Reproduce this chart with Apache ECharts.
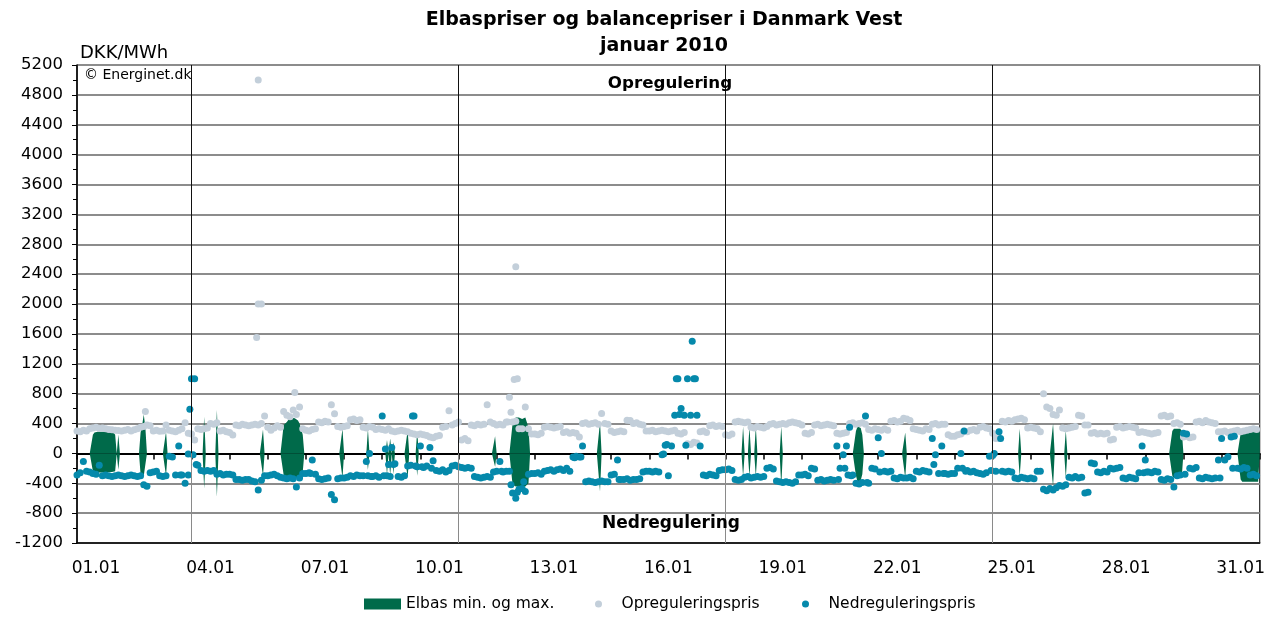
<!DOCTYPE html>
<html>
<head>
<meta charset="utf-8">
<title>Elbaspriser og balancepriser i Danmark Vest</title>
<script src="https://cdn.jsdelivr.net/npm/echarts@6/dist/echarts.min.js"></script>
<style>
  html, body { margin: 0; padding: 0; background: #fff; }
  #chart { width: 1268px; height: 619px; }
</style>
</head>
<body>
<div id="chart"></div>
<script>
// 01.01 00:00 = time 0, one value every 2 hours (12 per day)
var stepHours = 2;
var opVals = [
  300,290,310,300,330,340,350,335,340,330,320,315,
  310,305,300,310,320,300,315,330,350,360,380,370,
  300,310,295,300,380,310,300,290,310,330,410,270,
  260,180,330,320,330,340,400,390,410,300,310,290,
  280,245,380,370,390,380,370,380,390,380,400,500,
  350,310,340,370,350,560,510,490,580,520,620,330,
  310,300,320,330,420,410,430,420,650,530,360,350,
  360,370,450,460,440,450,350,340,360,350,320,330,
  320,310,330,300,290,300,310,300,290,270,260,250,
  260,250,240,220,210,230,240,350,360,570,380,400,
  420,180,200,170,380,370,390,380,390,650,420,400,
  380,390,380,420,750,420,430,330,330,620,330,260,
  260,250,270,350,360,350,340,350,360,280,290,270,
  280,270,220,400,410,390,400,410,390,535,400,390,
  300,280,290,300,290,445,440,400,410,390,380,300,
  300,310,290,300,310,300,290,300,310,270,260,280,
  130,120,150,140,290,300,280,370,380,360,370,360,
  250,240,260,420,430,420,410,420,350,340,360,350,
  340,360,390,400,380,390,400,390,410,420,410,400,
  380,270,260,280,380,390,370,380,390,380,370,270,
  260,270,280,400,410,390,400,410,390,320,310,330,
  320,310,330,310,430,440,420,430,470,460,440,330,
  320,310,300,330,320,390,400,380,390,390,250,230,
  230,250,260,290,290,310,320,300,350,360,340,330,
  270,200,200,430,420,440,430,450,460,470,450,340,
  350,340,330,290,800,620,600,520,510,580,340,330,
  340,350,360,510,500,380,380,270,280,260,270,260,
  270,180,190,350,360,340,350,360,350,340,280,290,
  280,270,260,270,280,500,510,490,500,400,410,390,
  220,230,210,220,420,430,410,440,420,410,400,290,
  290,300,280,290,300,310,290,300,310,320,330,320
];
var nedVals = [
  -290,-260,-110,-240,-250,-270,-280,-160,-300,-290,-300,-310,
  -300,-290,-300,-310,-300,-290,-300,-310,-300,-420,-440,-260,
  -250,-240,-300,-310,-300,-40,-50,-290,100,-290,-400,-290,
  1000,1000,-160,-230,-240,-230,-240,-230,-280,-270,-290,-280,
  -280,-290,-350,-350,-360,-350,-350,-370,-380,-490,-360,-300,
  -300,-290,-280,-300,-320,-330,-340,-330,-340,-450,-330,-270,
  -270,-260,-90,-280,-340,-350,-340,-330,-550,-620,-340,-330,
  -330,-320,-300,-310,-290,-300,-300,-110,0,-310,-300,-320,
  500,60,-150,80,-140,-310,-320,-300,-170,-160,500,-180,
  100,-190,-170,80,-100,-230,-240,-220,-250,-230,-170,-160,
  -180,-190,-200,-190,-200,-310,-320,-330,-320,-310,-320,-250,
  -240,-110,-250,-240,-240,-530,-600,-480,-470,-510,-280,-270,
  -270,-260,-280,-240,-230,-220,-240,-220,-210,-230,-200,-240,
  -50,-40,-50,100,-380,-370,-380,-390,-380,-370,-380,-380,
  -290,-280,-90,-350,-350,-340,-360,-350,-350,-340,-250,-240,
  -240,-250,-240,-250,-20,110,-300,100,510,1000,600,510,
  1000,510,1000,510,100,-290,-300,-280,-290,-300,-230,-220,
  -220,-210,-230,-350,-360,-350,-320,-310,-330,-320,-310,-320,
  -310,-200,-190,-210,-370,-380,-390,-380,-390,-400,-380,-290,
  -290,-280,-300,-200,-210,-360,-350,-370,-360,-350,-360,100,
  -200,-20,100,350,-290,-400,-410,-390,500,-400,-200,-210,
  210,0,-240,-250,-240,-330,-340,-320,-330,-330,-320,-340,
  -240,-250,-230,-240,-250,200,-20,-270,100,-270,-280,-270,
  -270,-200,0,300,-230,-250,-240,-260,-270,-280,-260,-40,
  -30,-240,290,-240,-250,-240,-250,-330,-340,-320,-330,-340,
  -330,-340,-240,-240,-480,-500,-470,-490,-460,-430,-440,-420,
  -320,-330,-310,-330,-320,-530,-520,-130,-140,-250,-260,-240,
  -250,-200,-210,-200,-190,-330,-340,-320,-330,-340,-260,100,
  -90,-250,-260,-240,-250,-350,-360,-340,-350,-450,-300,-290,
  270,260,-200,-210,-190,-330,-340,-320,-330,-340,-330,-90,
  200,-90,-45,220,230,-200,-210,-190,-200,-290,-280,-300
];
// single hours that lie off the 2-hour grid (spikes and doubled points)
var opExtraHours = [43, 113, 114, 114, 116, 137, 271, 273, 275, 276, 277];
var opExtraVals  = [560, 1550, 2000, 5000, 2000, 815, 420, 550, 990, 2500, 1000];
var nedExtraHours = [65, 71, 70, 73, 75, 147, 183, 185, 193, 195, 197, 199, 211, 213, 217, 223,
  267, 273, 277, 281, 313, 317, 341, 369, 371, 377, 379, 383, 387, 389, 479, 483, 485, 487,
  497, 505, 539, 545, 557, 559, 575, 577, 581, 671, 673, 697, 719, 727];
var nedExtraVals = [-290, 590, -10, -20, -150, -270, -300, -310, -300, -300, -310, -150, 500, -170, -180, -200,
  -240, -420, -520, -380, -60, -50, -350, -10, 120, 1000, 520, 110, 1500, 1000, -350, -200, -290, -300,
  -390, -250, -150, -270, -200, -240, -230, 0, 200, -260, -250, -280, -330, -200];

// Elbas traded hours: max and min price
var elbasHours = [10,11,12,13,14,15,16,17,18,19,20,21,22,23,24,26,40,41,42,43,56,80,88,117,
  130,131,132,133,134,135,136,137,138,139,140,141,142,167,183,195,197,199,208,214,263,
  274,275,276,277,278,279,280,281,282,283,284,329,419,423,427,443,490,491,492,493,494,521,
  593,614,622,689,690,691,692,693,694,695,
  732,733,734,735,736,737,738,739,740,741,742,743,744];
var elbasMax = [250,280,290,290,290,290,290,290,290,290,290,290,290,280,250,250,280,380,520,350,290,490,580,320,
  380,400,420,450,470,480,480,470,470,440,400,330,250,330,330,180,200,150,310,300,230,
  400,450,480,490,480,470,460,470,480,490,350,420,360,360,360,360,300,360,360,340,250,280,
  330,400,310,300,330,330,330,330,330,300,
  270,290,290,290,290,290,290,290,290,290,290,290,290];
var elbasMin = [-240,-250,-250,-255,-255,-255,-255,-255,-255,-250,-250,-250,-250,-250,-240,-220,-280,-300,-300,-280,-300,-470,-580,-300,
  -290,-300,-310,-320,-320,-330,-330,-330,-330,-320,-300,-280,-250,-330,-220,-290,-300,-280,-330,-300,-180,
  -420,-440,-445,-445,-445,-445,-445,-445,-445,-440,-400,-510,-310,-310,-310,-445,-300,-380,-380,-360,-280,-330,
  -310,-445,-330,-300,-330,-330,-330,-330,-330,-300,
  -350,-380,-380,-380,-380,-380,-380,-380,-380,-380,-380,-380,-380];

var xLabels = ['01.01','04.01','07.01','10.01','13.01','16.01','19.01','22.01','25.01','28.01','31.01'];
var weekStartHours = [72, 240, 408, 576];
var totalHours = 744;
var yMin = -1200, yMax = 5200, yStep = 400;

var fontFam = 'DejaVu Sans';

function toPairs(vals, step) {
  return vals.map(function (v, i) { return [i * step, v]; });
}
function addExtra(list, hours, vals) {
  hours.forEach(function (h, i) { list.push([h, vals[i]]); });
  return list;
}
var opData = addExtra(toPairs(opVals, stepHours), opExtraHours, opExtraVals);
var nedData = addExtra(toPairs(nedVals, stepHours), nedExtraHours, nedExtraVals);

// Elbas as two areas out from the zero line, 0 in hours without trade
var elbasMaxLine = [], elbasMinLine = [];
for (var h = 0; h <= totalHours; h++) {
  elbasMaxLine.push([h, 0]);
  elbasMinLine.push([h, 0]);
}
elbasHours.forEach(function (hr, i) {
  elbasMaxLine[hr][1] = elbasMax[i];
  elbasMinLine[hr][1] = elbasMin[i];
});

// weekly vertical lines: dark above zero, grey below
var weekLines = [];
weekStartHours.forEach(function (hr) {
  weekLines.push([{ coord: [hr, 0], lineStyle: { color: '#111' } }, { coord: [hr, yMax] }]);
  weekLines.push([{ coord: [hr, yMin], lineStyle: { color: '#8a8a8a' } }, { coord: [hr, 0] }]);
});

var green = '#006a4a';
var light = '#c3cfda';
var teal = '#0589ab';

var option = {
  animation: false,
  textStyle: { fontFamily: fontFam },
  title: {
    text: 'Elbaspriser og balancepriser i Danmark Vest\njanuar 2010',
    left: 664, top: 7, padding: 0, textAlign: 'center',
    textStyle: { fontFamily: fontFam, fontSize: 19, fontWeight: 'bold', color: '#000', lineHeight: 26 }
  },
  grid: { left: 77, right: 8, top: 65, bottom: 76, show: true, borderColor: '#000', borderWidth: 1 },
  legend: [
    { data: [{ name: 'Elbas min. og max.', icon: 'rect' }], left: 364, top: 596, padding: 0,
      itemWidth: 37, itemHeight: 11, itemGap: 0, selectedMode: false,
      textStyle: { fontFamily: fontFam, fontSize: 15.5, color: '#000' } },
    { data: [{ name: 'Opreguleringspris', icon: 'circle' }], left: 595, top: 596, padding: 0,
      itemWidth: 36, itemHeight: 7, itemGap: 0, selectedMode: false,
      textStyle: { fontFamily: fontFam, fontSize: 15.5, color: '#000' } },
    { data: [{ name: 'Nedreguleringspris', icon: 'circle' }], left: 802, top: 596, padding: 0,
      itemWidth: 36, itemHeight: 7, itemGap: 0, selectedMode: false,
      textStyle: { fontFamily: fontFam, fontSize: 15.5, color: '#000' } }
  ],
  xAxis: [
    { // zero line with one tick per day
      type: 'value', min: 0, max: totalHours, interval: 24, position: 'bottom',
      axisLine: { onZero: true, onZeroAxisIndex: 0, lineStyle: { color: '#000', width: 2 } },
      axisTick: { show: true, length: 6, lineStyle: { color: '#000', width: 1.5 } },
      axisLabel: { show: false },
      splitLine: { show: false }
    },
    { // date labels at noon of every third day
      type: 'value', min: 0, max: totalHours, interval: 12, position: 'bottom',
      axisLine: { onZero: false, lineStyle: { color: '#000', width: 1.5 } },
      axisTick: { show: false },
      axisLabel: {
        margin: 17, fontSize: 17, color: '#000', fontFamily: fontFam,
        formatter: function (v) {
          if ((v - 12) % 72 !== 0) return '';
          return xLabels[(v - 12) / 72] || '';
        }
      },
      splitLine: { show: false }
    }
  ],
  yAxis: {
    type: 'value', min: yMin, max: yMax, interval: yStep,
    axisLine: { show: true, onZero: false, lineStyle: { color: '#000', width: 1.5 } },
    axisTick: { show: true, length: 5, lineStyle: { color: '#000' } },
    minorTick: { show: true, splitNumber: 2, length: 4, lineStyle: { color: '#000' } },
    axisLabel: { margin: 14, fontSize: 16.5, color: '#000', fontFamily: fontFam,
      formatter: function (v) { return String(v); } },
    splitLine: { show: true, lineStyle: { color: '#8c8c8c', width: 2 } }
  },
  graphic: [
    { type: 'text', x: 80, y: 44, style: { text: 'DKK/MWh', fontSize: 18, fontFamily: fontFam, fill: '#000' } },
    { type: 'text', x: 84, y: 68, style: { text: '© Energinet.dk', fontSize: 14, fontFamily: fontFam, fill: '#000' } },
    { type: 'text', x: 670, y: 84, z: 10,
      style: { text: 'Opregulering', fontSize: 16.7, fontWeight: 'bold', fontFamily: fontFam, fill: '#000', align: 'center', verticalAlign: 'middle' } },
    { type: 'text', x: 671, y: 524, z: 10,
      style: { text: 'Nedregulering', fontSize: 17, fontWeight: 'bold', fontFamily: fontFam, fill: '#000', align: 'center', verticalAlign: 'middle' } }
  ],
  series: [
    {
      name: 'Elbas min. og max.', type: 'line', xAxisIndex: 0, data: elbasMaxLine,
      smooth: false, showSymbol: false, symbol: 'none', z: 1,
      itemStyle: { color: green }, lineStyle: { width: 0 },
      areaStyle: { color: green, opacity: 1 },
      markLine: { silent: true, symbol: ['none', 'none'], label: { show: false },
        lineStyle: { width: 1, type: 'solid' }, data: weekLines }
    },
    {
      name: 'Elbas min. og max.', type: 'line', xAxisIndex: 0, data: elbasMinLine,
      smooth: false, showSymbol: false, symbol: 'none', z: 1,
      itemStyle: { color: green }, lineStyle: { width: 0 },
      areaStyle: { color: green, opacity: 1 }
    },
    {
      name: 'Opreguleringspris', type: 'scatter', xAxisIndex: 0, data: opData,
      symbolSize: 7, z: 3, itemStyle: { color: light, opacity: 1 }
    },
    {
      name: 'Nedreguleringspris', type: 'scatter', xAxisIndex: 0, data: nedData,
      symbolSize: 7, z: 4, itemStyle: { color: teal, opacity: 1 }
    }
  ]
};

var myChart = echarts.init(document.getElementById('chart'));
myChart.setOption(option);
</script>
</body>
</html>
